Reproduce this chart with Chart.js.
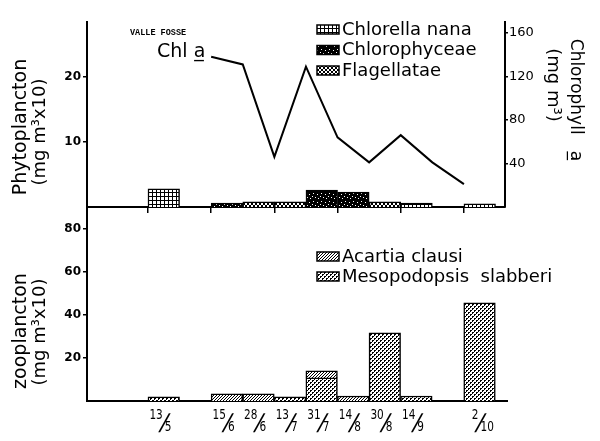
<!DOCTYPE html>
<html>
<head>
<meta charset="utf-8">
<script src="https://cdn.jsdelivr.net/npm/chart.js@4.4.0/dist/chart.umd.min.js"></script>
<style>
  html, body { margin: 0; padding: 0; background: #fff; }
  #marco { position: relative; width: 600px; height: 441px; }
  canvas { position: absolute; left: 0; top: 0; }
</style>
</head>
<body>
<div id="marco">
  <canvas id="chartFito" width="600" height="441"></canvas>
  <canvas id="chartZoo" width="600" height="441"></canvas>
</div>
<script>
// Fechas de muestreo (los huecos son columnas vacías del gráfico)
const FECHAS = ["", "", "13/5", "", "15/6", "28/6", "13/7", "31/7", "14/8", "30/8", "14/9", "", "2/10"];

// Fitoplancton (mg m3 x10)
const CHLORELLA = [null, null, 2.8, null, null, null, null, null, null, null, 0.6, null, 0.5];
const CHLOROPHYCEAE = [null, null, null, null, 0.6, null, null, 2.6, 2.3, null, null, null, null];
const FLAGELLATAE = [null, null, null, null, null, 0.8, 0.8, null, null, 0.8, null, null, null];

// Clorofila a (mg m-3)
const CHL_A = [null, null, null, null, 138, 131, 46, 129, 64, 41, 66, 41, 21];

// Zooplancton (mg m3 x10)
const MESOPODOPSIS = [null, null, 1.9, null, null, null, 1.9, 10.7, null, 31.6, 2.3, null, 45.6];
const ACARTIA = [null, null, null, null, 3.3, 3.3, null, 3.3, 2.3, null, null, null, null];

// Marcas de los ejes
const TICKS_FITO = [10, 20];
const TICKS_CHL = [40, 80, 120, 160];
const TICKS_ZOO = [20, 40, 60, 80];

const FUENTE = '"DejaVu Sans", "Liberation Sans", sans-serif';

// marcas del eje x: cada dos columnas, en el borde izquierdo
const MARCAS_X = FECHAS.map((_, i) => i - 0.5).filter((_, i) => i > 0 && i % 2 === 0);

function aPuntos(arr, corrimiento = 0) {
  return arr
    .map((v, i) => ({ x: i + corrimiento, y: v }))
    .filter((p) => p.y !== null);
}

function crearPatron(tipo) {
  const c = document.createElement("canvas");
  const size = tipo === "motas" ? 8 : tipo === "rayas" ? 3 : 4;
  c.width = c.height = size;
  const g = c.getContext("2d");
  g.fillStyle = "#fff";
  g.fillRect(0, 0, size, size);
  g.fillStyle = "#000";
  const px = (lista) => lista.forEach(([x, y]) => g.fillRect(x, y, 1, 1));
  if (tipo === "cuadros") {
    g.fillRect(0, 0, size, 1);
    g.fillRect(0, 0, 1, size);
  } else if (tipo === "motas") {
    g.fillRect(0, 0, size, size);
    g.fillStyle = "#fff";
    px([[1, 1], [5, 2], [3, 5], [6, 6], [0, 4]]);
  } else if (tipo === "cruces") {
    px([[0, 0], [1, 1], [2, 2], [3, 3], [3, 0], [2, 1], [1, 2], [0, 3]]);
  } else if (tipo === "rayas") {
    px([[0, 2], [1, 1], [2, 0]]);
  } else if (tipo === "puntos") {
    px([[0, 0], [1, 0], [0, 1], [2, 2], [3, 2], [2, 3]]);
  }
  return g.createPattern(c, "repeat");
}

function textoGirado(ctx, txt, x, y, ang, font) {
  ctx.save();
  ctx.translate(x, y);
  ctx.rotate(ang);
  ctx.font = font;
  ctx.textAlign = "center";
  ctx.textBaseline = "middle";
  ctx.fillText(txt, 0, 0);
  ctx.restore();
}

function dibujarLeyenda(ctx, datasets, x, y0, paso) {
  datasets.forEach((ds, k) => {
    const y = y0 + k * paso;
    ctx.fillStyle = ds.backgroundColor;
    ctx.fillRect(x, y - 5, 22, 9);
    ctx.strokeStyle = "#000";
    ctx.lineWidth = 1.5;
    ctx.strokeRect(x, y - 5, 22, 9);
    ctx.fillStyle = "#000";
    ctx.font = "18px " + FUENTE;
    ctx.textAlign = "left";
    ctx.textBaseline = "middle";
    ctx.fillText(ds.label, x + 25, y);
  });
}

const rotulosFito = {
  id: "rotulosFito",
  afterDraw(chart) {
    const ctx = chart.ctx;
    ctx.save();
    ctx.fillStyle = "#000";
    textoGirado(ctx, "Phytoplancton", 21, 127, -Math.PI / 2, "19px " + FUENTE);
    textoGirado(ctx, "(mg m³x10)", 40, 132, -Math.PI / 2, "18px " + FUENTE);
    textoGirado(ctx, "Chlorophyll   a\u0332", 575, 100, Math.PI / 2, "17px " + FUENTE);
    textoGirado(ctx, "(mg m³)", 553, 85, Math.PI / 2, "18px " + FUENTE);
    ctx.textAlign = "left";
    ctx.textBaseline = "middle";
    ctx.font = 'bold 8.5px "Liberation Mono", monospace';
    ctx.fillText("VALLE FOSSE", 130, 33);
    ctx.font = "19px " + FUENTE;
    ctx.fillText("Chl a\u0332", 157, 52);
    dibujarLeyenda(ctx, chart.data.datasets.slice(1), 317, 30, 20.5);
    ctx.restore();
  },
};

const rotulosZoo = {
  id: "rotulosZoo",
  afterDraw(chart) {
    const ctx = chart.ctx;
    const xs = chart.scales.x;
    ctx.save();
    ctx.fillStyle = "#000";
    textoGirado(ctx, "zooplancton", 21, 331, -Math.PI / 2, "19px " + FUENTE);
    textoGirado(ctx, "(mg m³x10)", 40, 332, -Math.PI / 2, "18px " + FUENTE);
    dibujarLeyenda(ctx, chart.data.datasets.slice().reverse(), 317, 257, 20);

    // fechas como fracciones
    FECHAS.forEach((f, i) => {
      if (!f) return;
      const [num, den] = f.split("/");
      const cx = xs.getPixelForValue(i);
      ctx.textBaseline = "alphabetic";
      ctx.font = "14px " + FUENTE;
      ctx.save();
      ctx.translate(cx - 1, 419);
      ctx.scale(0.75, 1);
      ctx.textAlign = "right";
      ctx.fillText(num, 0, 0);
      ctx.restore();
      ctx.save();
      ctx.translate(cx - 1, 430);
      ctx.transform(1, 0, -0.25, 1, 0, 0);
      ctx.font = "23px " + FUENTE;
      ctx.textAlign = "center";
      ctx.fillText("/", 0, 0);
      ctx.restore();
      ctx.save();
      ctx.translate(cx + 1, 431);
      ctx.scale(0.75, 1);
      ctx.font = "14px " + FUENTE;
      ctx.textAlign = "left";
      ctx.fillText(den, 0, 0);
      ctx.restore();
    });
    ctx.restore();
  },
};

function estiloBarra(label, datos, patron) {
  return {
    label,
    data: aPuntos(datos),
    backgroundColor: crearPatron(patron),
    borderColor: "#000",
    borderWidth: 1.5,
    categoryPercentage: 1,
    barPercentage: 1,
    yAxisID: "y",
    order: 1,
  };
}

const bordeNegro = { display: true, color: "#000", width: 2 };

// ---- Panel superior: fitoplancton + clorofila ----
new Chart(document.getElementById("chartFito"), {
  type: "bar",
  data: {
    datasets: [
      {
        type: "line",
        label: "Chl a",
        data: aPuntos(CHL_A, -0.5),
        yAxisID: "yChl",
        borderColor: "#000",
        borderWidth: 2,
        pointRadius: 0,
        tension: 0,
        fill: false,
        order: 0,
      },
      estiloBarra("Chlorella nana", CHLORELLA, "cuadros"),
      estiloBarra("Chlorophyceae", CHLOROPHYCEAE, "motas"),
      estiloBarra("Flagellatae", FLAGELLATAE, "cruces"),
    ],
  },
  options: {
    responsive: false,
    animation: false,
    layout: { padding: { top: 22, bottom: 226, left: 0, right: 0 } },
    plugins: { legend: { display: false }, tooltip: { enabled: false } },
    scales: {
      x: {
        type: "linear",
        offset: false,
        min: -0.43,
        max: 12.8,
        stacked: true,
        afterBuildTicks: (s) => { s.ticks = MARCAS_X.map((v) => ({ value: v })); },
        afterFit: (s) => { s.height = 8; },
        ticks: { display: false },
        grid: { display: true, offset: false, drawOnChartArea: false, drawTicks: true, tickLength: 6, color: "#000", lineWidth: 1.5 },
        border: bordeNegro,
      },
      y: {
        position: "left",
        min: 0,
        max: 28.46,
        stacked: true,
        afterBuildTicks: (s) => { s.ticks = TICKS_FITO.map((v) => ({ value: v })); },
        afterFit: (s) => { s.width = 87; },
        ticks: { color: "#000", padding: 2, font: { family: FUENTE, size: 12, weight: "bold" } },
        grid: { drawOnChartArea: false, tickLength: 4, color: "#000", lineWidth: 1.5 },
        border: bordeNegro,
      },
      yChl: {
        position: "right",
        min: 0,
        max: 170,
        afterBuildTicks: (s) => { s.ticks = TICKS_CHL.map((v) => ({ value: v })); },
        afterFit: (s) => { s.width = 95; },
        ticks: { color: "#000", padding: 1, font: { family: FUENTE, size: 13 } },
        grid: { drawOnChartArea: false, tickLength: 3, color: "#000", lineWidth: 1.5 },
        border: bordeNegro,
      },
    },
  },
  plugins: [rotulosFito],
});

// ---- Panel inferior: zooplancton ----
new Chart(document.getElementById("chartZoo"), {
  type: "bar",
  data: {
    datasets: [
      estiloBarra("Mesopodopsis  slabberi", MESOPODOPSIS, "puntos"),
      estiloBarra("Acartia clausi", ACARTIA, "rayas"),
    ],
  },
  options: {
    responsive: false,
    animation: false,
    layout: { padding: { top: 207, bottom: 39, left: 0, right: 93 } },
    plugins: { legend: { display: false }, tooltip: { enabled: false } },
    scales: {
      x: {
        type: "linear",
        offset: false,
        min: -0.43,
        max: 12.87,
        stacked: true,
        afterBuildTicks: (s) => { s.ticks = MARCAS_X.map((v) => ({ value: v })); },
        afterFit: (s) => { s.height = 1; },
        ticks: { display: false },
        grid: { display: false, offset: false },
        border: bordeNegro,
      },
      y: {
        position: "left",
        min: 0,
        max: 90,
        stacked: true,
        afterBuildTicks: (s) => { s.ticks = TICKS_ZOO.map((v) => ({ value: v })); },
        afterFit: (s) => { s.width = 87; },
        ticks: { color: "#000", padding: 2, font: { family: FUENTE, size: 12, weight: "bold" } },
        grid: { drawOnChartArea: false, tickLength: 4, color: "#000", lineWidth: 1.5 },
        border: bordeNegro,
      },
    },
  },
  plugins: [rotulosZoo],
});
</script>
</body>
</html>
